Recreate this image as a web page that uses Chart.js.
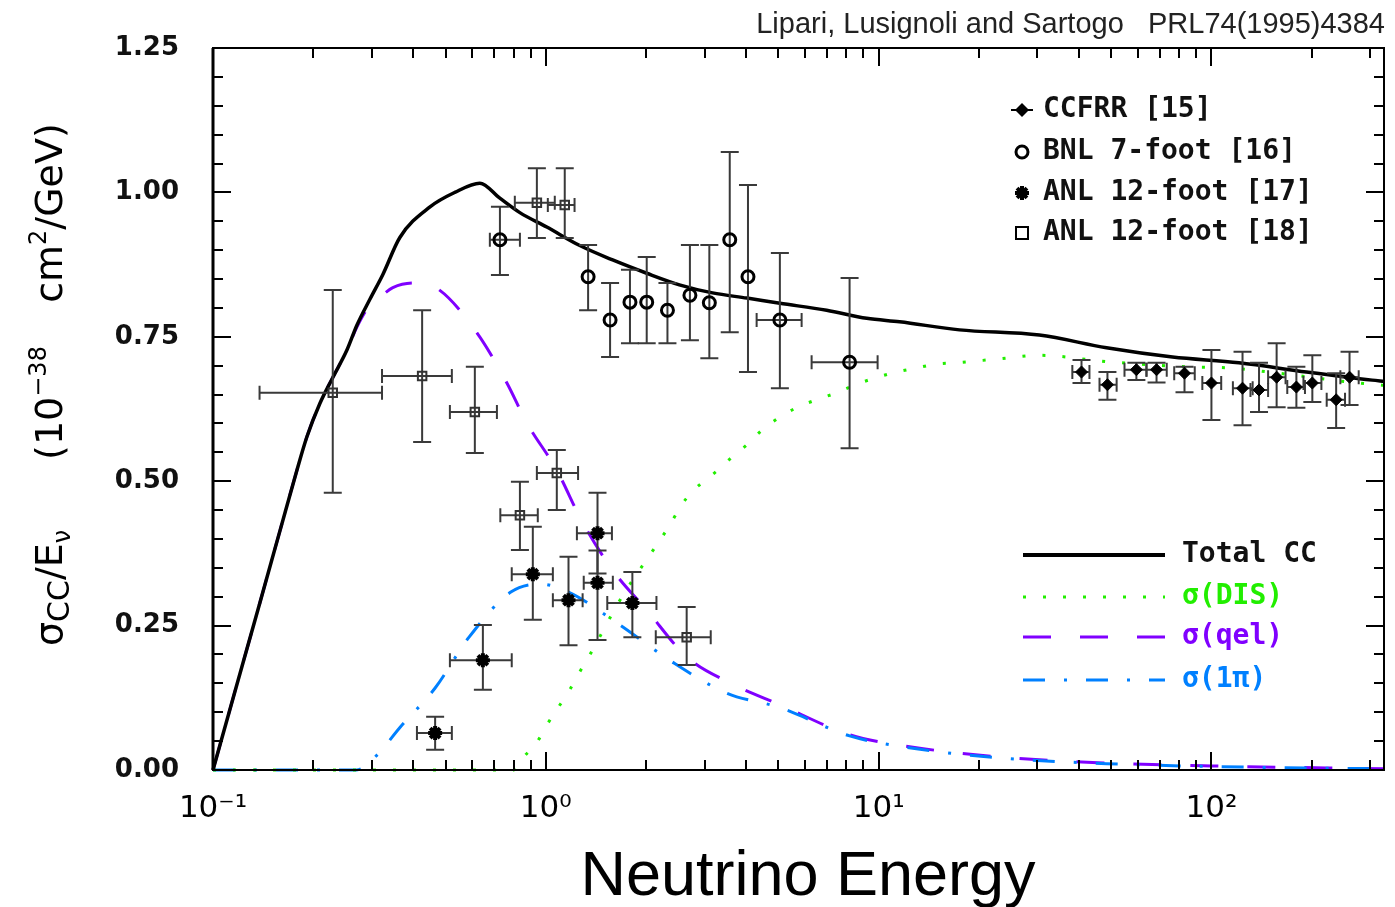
<!DOCTYPE html>
<html><head><meta charset="utf-8">
<script src="https://cdn.jsdelivr.net/npm/chart.js@4/dist/chart.umd.min.js"></script>
<style>html,body{margin:0;padding:0;background:#fff;}canvas{display:block;}</style>
</head><body>
<canvas id="c" width="1395" height="907"></canvas>
<script>
// ---------- tick labels ----------
const xTickValues = [0.1, 1, 10, 100];
const xTickLabels = ['10\u207B\u00B9', '10\u2070', '10\u00B9', '10\u00B2'];
const yTickValues = [0, 0.25, 0.5, 0.75, 1.0, 1.25];
const yTickLabels = ['0.00', '0.25', '0.50', '0.75', '1.00', '1.25'];

// ---------- theory curves (E in GeV, sigma/E in 1e-38 cm^2/GeV) ----------
const totalE = [0.1,0.1164,0.1384,0.1589,0.1787,0.1915,0.2096,0.2293,0.2526,0.2706,0.2961,0.3239,0.3643,0.4488,0.5327,0.6334,0.7277,0.8355,1.007,1.265,1.588,2.01,2.52,3.17,4.02,5.05,6.98,9.21,11.56,17.5,30.4,48.4,76.4,121,193,304,330];
const totalV = [0,0.136,0.29,0.414,0.519,0.577,0.635,0.68,0.727,0.77,0.815,0.858,0.922,0.975,1.0,1.016,0.99,0.965,0.94,0.908,0.883,0.86,0.84,0.826,0.817,0.808,0.796,0.782,0.776,0.762,0.753,0.731,0.715,0.705,0.689,0.675,0.673];

const qelE = [0.1,0.1164,0.1384,0.1589,0.1787,0.1915,0.2096,0.2293,0.2526,0.2706,0.2961,0.3239,0.347,0.40,0.471,0.621,0.764,0.877,1.079,1.291,1.588,2.01,2.65,3.57,5.05,8.18,11.56,23.1,48.4,100,330];
const qelV = [0,0.136,0.29,0.414,0.519,0.577,0.635,0.68,0.727,0.767,0.805,0.823,0.835,0.843,0.834,0.757,0.670,0.601,0.519,0.428,0.346,0.277,0.196,0.151,0.113,0.061,0.043,0.0225,0.012,0.007,0.002];

const pionE = [0.1,0.27,0.31,0.365,0.465,0.588,0.785,0.96,1.17,1.67,2.37,3.5,5.05,8.18,11.56,23.1,48.4,100,330];
const pionV = [0,0,0.025,0.074,0.142,0.23,0.308,0.322,0.308,0.251,0.189,0.133,0.108,0.059,0.041,0.021,0.011,0.006,0.002];

const disE = [0.1,0.8,0.85,0.94,1.007,1.18,1.265,1.37,1.67,2.31,2.65,3.33,3.63,4.02,4.47,5.05,5.65,6.5,7.47,8.5,9.8,11.3,13.0,15.0,17.2,23.1,30.4,48.4,84.6,113,175,231,314,330];
const disV = [0,0,0.02,0.048,0.078,0.139,0.17,0.204,0.294,0.416,0.471,0.522,0.542,0.563,0.589,0.611,0.627,0.641,0.653,0.667,0.679,0.689,0.696,0.703,0.705,0.712,0.718,0.707,0.698,0.696,0.684,0.675,0.667,0.666];

// ---------- data points: [E, value, valueLow, valueHigh, eLow, eHigh] ----------
const ccfrr = [
  [40.7,0.689,0.670,0.710,38.2,43.0],
  [48.7,0.667,0.641,0.689,46.1,51.9],
  [59.5,0.693,0.675,0.705,54.8,63.8],
  [68.4,0.693,0.671,0.705,63.8,73.4],
  [83.0,0.687,0.654,0.698,77.3,89.1],
  [100,0.670,0.606,0.727,93.9,107],
  [124,0.661,0.597,0.724,116,133],
  [139,0.658,0.620,0.705,131,148],
  [157,0.680,0.628,0.739,148,167],
  [180,0.663,0.627,0.698,169,191],
  [201,0.670,0.637,0.718,189,214],
  [237,0.641,0.592,0.687,222,252],
  [260,0.680,0.632,0.724,244,277]
];
const bnl = [
  [0.728,0.918,0.857,0.975,0.679,0.836],
  [1.34,0.854,0.796,0.909,null,null],
  [1.56,0.779,0.715,0.843,null,null],
  [1.79,0.81,0.739,0.866,null,null],
  [2.01,0.81,0.739,0.888,null,null],
  [2.32,0.796,0.739,0.843,null,null],
  [2.71,0.822,0.744,0.909,null,null],
  [3.10,0.809,0.713,0.909,null,null],
  [3.57,0.918,0.758,1.07,null,null],
  [4.05,0.854,0.689,1.013,null,null],
  [5.05,0.779,0.661,0.895,4.30,5.87],
  [8.18,0.706,0.557,0.852,6.29,9.93]
];
const anl17 = [
  [0.465,0.064,0.035,0.092,0.41,0.522],
  [0.647,0.19,0.139,0.251,0.515,0.79],
  [0.914,0.339,0.26,0.421,0.79,1.05],
  [1.17,0.294,0.216,0.369,1.05,1.29],
  [1.43,0.41,0.34,0.48,1.24,1.58],
  [1.43,0.324,0.225,0.38,1.30,1.59],
  [1.82,0.289,0.23,0.343,1.53,2.15]
];
const anl18 = [
  [0.229,0.653,0.480,0.831,0.138,0.322],
  [0.425,0.682,0.568,0.796,0.322,0.522],
  [0.612,0.620,0.549,0.698,0.515,0.713],
  [0.94,0.982,0.921,1.042,0.807,1.064],
  [1.14,0.978,0.921,1.042,1.014,1.22],
  [0.836,0.441,0.381,0.499,0.73,0.946],
  [1.079,0.514,0.45,0.554,0.94,1.25],
  [2.65,0.230,0.182,0.282,2.14,3.13]
];

const legendTop = ['CCFRR [15]', 'BNL 7-foot [16]', 'ANL 12-foot [17]', 'ANL 12-foot [18]'];
const legendBottom = ['Total CC', '\u03C3(DIS)', '\u03C3(qel)', '\u03C3(1\u03C0)'];

const GREEN = '#22ee00', PURPLE = '#8000ff', BLUE = '#0080ff', BAR = '#3a3a3a';

const pts = (E, V) => E.map((e, i) => ({x: e, y: V[i]}));
const mk = rows => rows.map(r => ({x: r[0], y: r[1]}));

// ---------- plugins ----------
const errorBars = {
  id: 'errorBars',
  beforeDatasetDraw(chart, args) {
    const ds = chart.data.datasets[args.index];
    if (!ds.errs) return;
    const {ctx, scales: {x, y}} = chart;
    ctx.save();
    ctx.strokeStyle = BAR; ctx.lineWidth = 2; ctx.setLineDash([]);
    ds.errs.forEach(r => {
      const px = x.getPixelForValue(r[0]), py = y.getPixelForValue(r[1]);
      const y1 = y.getPixelForValue(r[2]), y2 = y.getPixelForValue(r[3]);
      ctx.beginPath();
      ctx.moveTo(px, y1); ctx.lineTo(px, y2);
      ctx.moveTo(px - 9, y1); ctx.lineTo(px + 9, y1);
      ctx.moveTo(px - 9, y2); ctx.lineTo(px + 9, y2);
      if (r[4] != null) {
        const x1 = x.getPixelForValue(r[4]), x2 = x.getPixelForValue(r[5]);
        ctx.moveTo(x1, py); ctx.lineTo(x2, py);
        ctx.moveTo(x1, py - 7); ctx.lineTo(x1, py + 7);
        ctx.moveTo(x2, py - 7); ctx.lineTo(x2, py + 7);
      }
      ctx.stroke();
    });
    ctx.restore();
  }
};

function drawMarker(ctx, kind, cx, cy) {
  ctx.save();
  ctx.strokeStyle = '#000'; ctx.fillStyle = '#000'; ctx.setLineDash([]);
  ctx.beginPath();
  if (kind === 0) {
    ctx.moveTo(cx, cy - 7); ctx.lineTo(cx + 7, cy); ctx.lineTo(cx, cy + 7); ctx.lineTo(cx - 7, cy); ctx.closePath(); ctx.fill();
    ctx.lineWidth = 2; ctx.beginPath(); ctx.moveTo(cx - 11, cy); ctx.lineTo(cx + 11, cy); ctx.stroke();
  } else if (kind === 1) {
    ctx.lineWidth = 3; ctx.arc(cx, cy, 6, 0, Math.PI * 2); ctx.stroke();
  } else if (kind === 2) {
    ctx.lineWidth = 4;
    for (let a = 0; a < 4; a++) {
      const t = a * Math.PI / 4;
      ctx.moveTo(cx - 7 * Math.cos(t), cy - 7 * Math.sin(t)); ctx.lineTo(cx + 7 * Math.cos(t), cy + 7 * Math.sin(t));
    }
    ctx.stroke();
  } else {
    ctx.lineWidth = 2; ctx.strokeRect(cx - 6, cy - 6, 12, 12);
  }
  ctx.restore();
}

function drawRotParts(ctx, parts, cy, baseX) {
  ctx.save();
  ctx.translate(baseX, cy);
  ctx.rotate(-Math.PI / 2);
  let total = 0;
  parts.forEach(p => { ctx.font = p.f; p.w = ctx.measureText(p.t).width; total += p.w; });
  let lx = -total / 2;
  ctx.textAlign = 'left'; ctx.textBaseline = 'alphabetic'; ctx.fillStyle = '#000';
  parts.forEach(p => { ctx.font = p.f; ctx.fillText(p.t, lx, p.dy || 0); lx += p.w; });
  ctx.restore();
}

const decor = {
  id: 'decor',
  afterDraw(chart) {
    const {ctx, chartArea: {left, right, top, bottom}, scales: {x, y}} = chart;
    ctx.save();
    ctx.setLineDash([]);
    // frame
    ctx.strokeStyle = '#000'; ctx.lineWidth = 2;
    ctx.strokeRect(left, top, right - left, bottom - top);
    ctx.lineWidth = 3; ctx.beginPath(); ctx.moveTo(left, top); ctx.lineTo(left, bottom); ctx.stroke();
    // ticks (inside)
    ctx.lineWidth = 2;
    ctx.beginPath();
    for (let n = -1; n <= 2; n++) {
      for (let k = 1; k <= 9; k++) {
        const v = k * Math.pow(10, n);
        if (v < 0.1 || v > 330) continue;
        const px = Math.round(x.getPixelForValue(v));
        const len = k === 1 ? 18 : 10;
        ctx.moveTo(px, bottom); ctx.lineTo(px, bottom - len);
        ctx.moveTo(px, top); ctx.lineTo(px, top + len);
      }
    }
    for (let i = 0; i <= 25; i++) {
      const py = Math.round(y.getPixelForValue(i * 0.05));
      const len = i % 5 === 0 ? 18 : 10;
      ctx.moveTo(left, py); ctx.lineTo(left + len, py);
      ctx.moveTo(right, py); ctx.lineTo(right - len, py);
    }
    ctx.stroke();

    // top annotation
    ctx.fillStyle = '#222'; ctx.font = '29px "Liberation Sans"';
    ctx.textAlign = 'right'; ctx.textBaseline = 'alphabetic';
    ctx.fillText('Lipari, Lusignoli and Sartogo   PRL74(1995)4384', 1385, 33);

    // x title
    ctx.fillStyle = '#000'; ctx.font = '63px "Liberation Sans"'; ctx.textAlign = 'center';
    ctx.fillText('Neutrino Energy', 808, 895);

    // y title (three groups)
    const F = '38px "DejaVu Sans"', S = '24px "DejaVu Sans"', M = '30px "DejaVu Sans"';
    drawRotParts(ctx, [{t: '\u03C3', f: F}, {t: 'CC', f: M, dy: 7}, {t: '/E', f: F}, {t: '\u03BD', f: S, dy: 8}], 588, 62);
    drawRotParts(ctx, [{t: '(10', f: F}, {t: '\u221238', f: S, dy: -16}], 403, 62);
    drawRotParts(ctx, [{t: 'cm', f: F}, {t: '2', f: S, dy: -16}, {t: '/GeV)', f: F}], 213, 62);

    // legend (experiments)
    ctx.font = 'bold 28px "DejaVu Sans Mono"'; ctx.textAlign = 'left'; ctx.textBaseline = 'middle';
    const rows1 = [110, 152, 193, 233];
    legendTop.forEach((t, i) => { drawMarker(ctx, i, 1022, rows1[i]); ctx.fillStyle = '#111'; ctx.fillText(t, 1043, rows1[i]); });

    // legend (curves)
    const rows2 = [555, 597, 637, 680];
    const styles = [
      {c: '#000', d: [], w: 4},
      {c: GREEN, d: [3, 17], w: 3},
      {c: PURPLE, d: [28, 29], w: 3},
      {c: BLUE, d: [22, 19, 3, 19], w: 3}
    ];
    legendBottom.forEach((t, i) => {
      const s = styles[i];
      ctx.strokeStyle = s.c; ctx.lineWidth = s.w; ctx.setLineDash(s.d); ctx.lineCap = 'butt';
      ctx.beginPath(); ctx.moveTo(1023, rows2[i]); ctx.lineTo(1165, rows2[i]); ctx.stroke();
      ctx.setLineDash([]);
      ctx.fillStyle = i === 0 ? '#111' : s.c;
      ctx.fillText(t, 1182, rows2[i]);
    });
    ctx.restore();
  }
};

new Chart(document.getElementById('c'), {
  type: 'line',
  data: {
    datasets: [
      {label: legendTop[0], data: mk(ccfrr), errs: ccfrr, showLine: false, pointStyle: 'rectRot', pointRadius: 6,
       pointBackgroundColor: '#000', pointBorderColor: '#000', pointBorderWidth: 1, order: 0},
      {label: legendTop[1], data: mk(bnl), errs: bnl, showLine: false, pointStyle: 'circle', pointRadius: 6,
       pointBackgroundColor: 'rgba(0,0,0,0)', pointBorderColor: '#000', pointBorderWidth: 3, order: 0},
      {label: legendTop[2], data: mk(anl17), errs: anl17, showLine: false, pointStyle: 'star', pointRadius: 7,
       pointBackgroundColor: '#000', pointBorderColor: '#000', pointBorderWidth: 4, order: 0},
      {label: legendTop[3], data: mk(anl18), errs: anl18, showLine: false, pointStyle: 'rect', pointRadius: 6,
       pointBackgroundColor: 'rgba(0,0,0,0)', pointBorderColor: '#333', pointBorderWidth: 2, order: 0},
      {label: legendBottom[0], data: pts(totalE, totalV), borderColor: '#000', borderWidth: 3.5, pointRadius: 0,
       cubicInterpolationMode: 'monotone', clip: 6, order: 1},
      {label: legendBottom[1], data: pts(disE, disV), borderColor: GREEN, borderWidth: 3, borderDash: [3, 17], pointRadius: 0,
       cubicInterpolationMode: 'monotone', clip: 6, order: 2},
      {label: legendBottom[3], data: pts(pionE, pionV), borderColor: BLUE, borderWidth: 3, borderDash: [22, 19, 3, 19], pointRadius: 0,
       cubicInterpolationMode: 'monotone', clip: 6, order: 3},
      {label: legendBottom[2], data: pts(qelE, qelV), borderColor: PURPLE, borderWidth: 3, borderDash: [28, 29], pointRadius: 0,
       cubicInterpolationMode: 'monotone', clip: 6, order: 4}
    ]
  },
  options: {
    responsive: false, animation: false, devicePixelRatio: 1,
    layout: {padding: {top: 48, right: 10, left: 0, bottom: 0}},
    plugins: {legend: {display: false}, tooltip: {enabled: false}, title: {display: false}},
    scales: {
      x: {
        type: 'logarithmic', min: 0.1, max: 330,
        grid: {display: false}, border: {display: false},
        afterBuildTicks: s => { s.ticks = xTickValues.map(v => ({value: v})); },
        afterFit: s => { s.height = 137; },
        ticks: {autoSkip: false, maxRotation: 0, padding: 12, color: '#000',
                font: {family: 'DejaVu Sans', size: 31},
                callback: (v, i) => xTickLabels[i]}
      },
      y: {
        type: 'linear', min: 0, max: 1.25,
        grid: {display: false}, border: {display: false},
        afterBuildTicks: s => { s.ticks = yTickValues.map(v => ({value: v})); },
        afterFit: s => { s.width = 213; },
        ticks: {padding: 26, color: '#111', font: {family: 'DejaVu Sans', size: 26, weight: 'bold'},
                callback: (v, i) => yTickLabels[i]}
      }
    }
  },
  plugins: [errorBars, decor]
});
</script>
</body></html>
